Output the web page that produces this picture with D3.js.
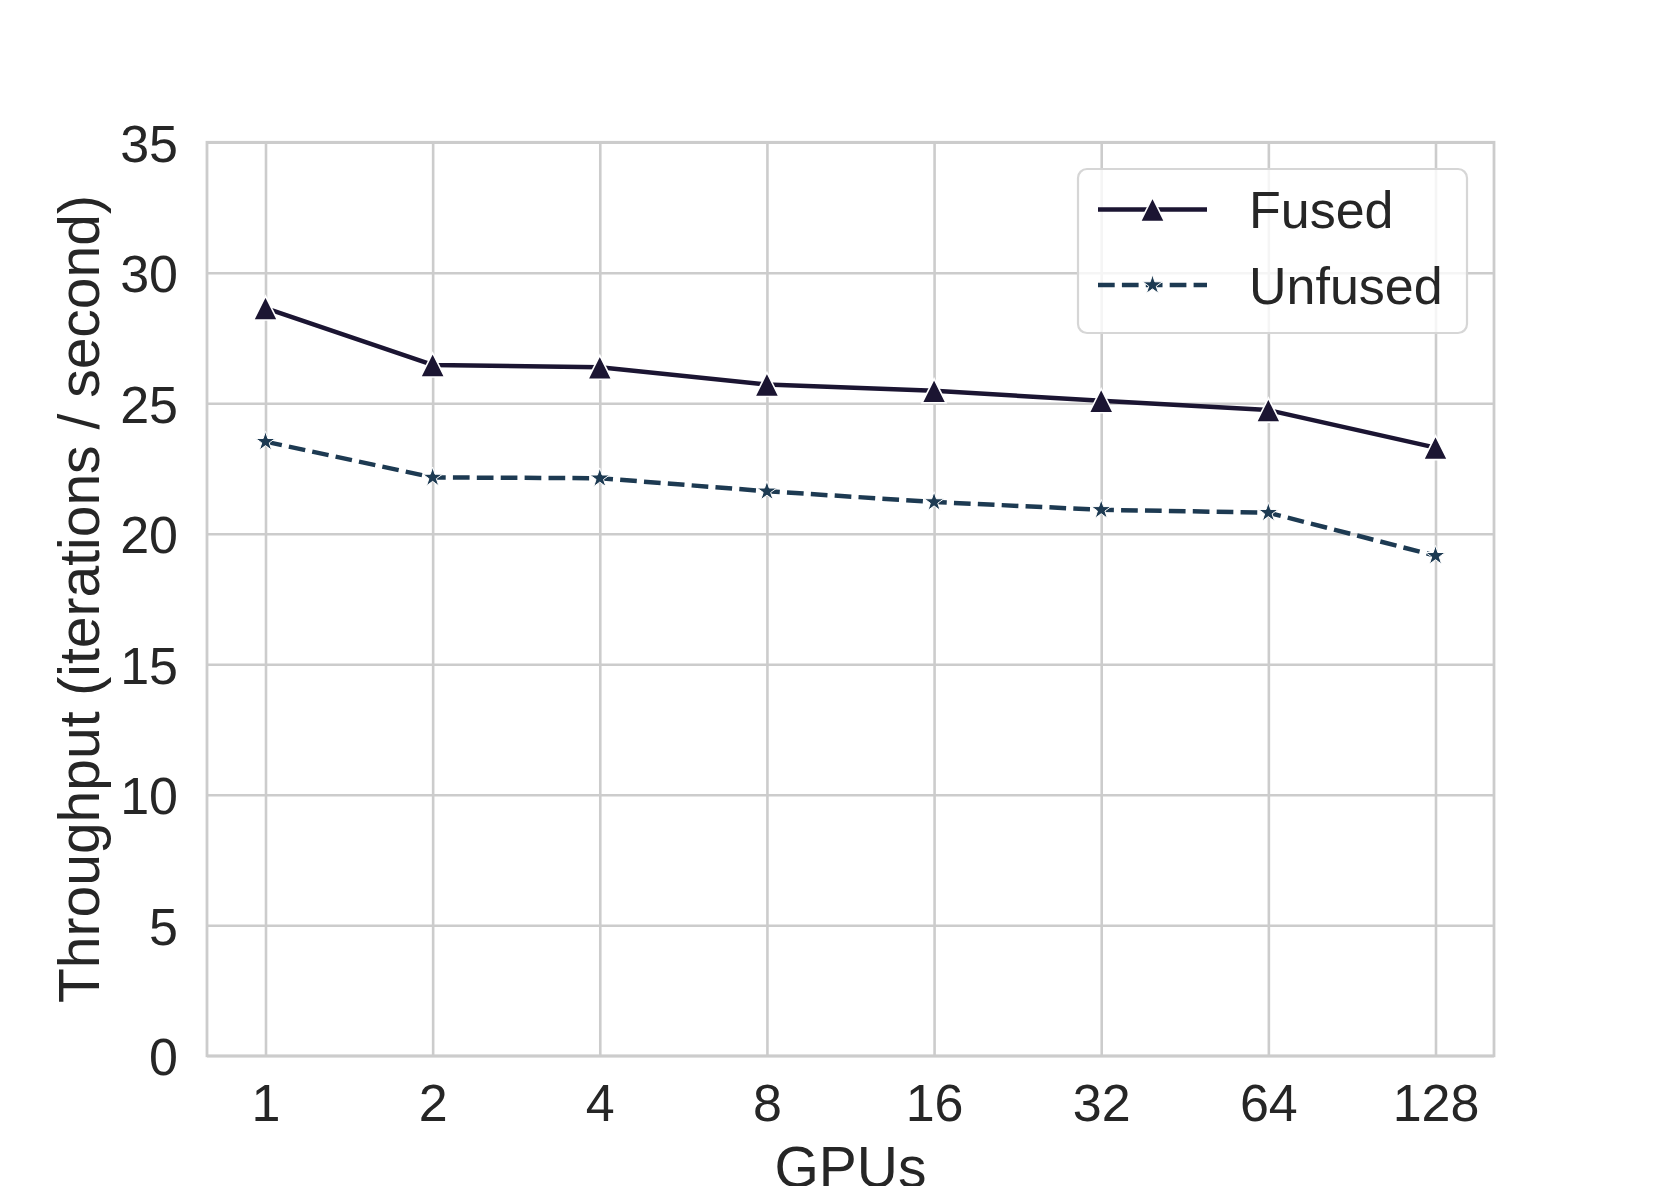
<!DOCTYPE html>
<html>
<head>
<meta charset="utf-8">
<script src="https://cdn.jsdelivr.net/npm/d3@7"></script>
<style>
  html, body { margin: 0; padding: 0; background: #ffffff; }
  text { font-family: "Liberation Sans", Arial, Helvetica, sans-serif; fill: #262626; }
</style>
</head>
<body>
<svg id="chart" width="1660" height="1186"></svg>
<script>
const categories = ["1", "2", "4", "8", "16", "32", "64", "128"];
const fusedValues = [28.65, 26.47, 26.38, 25.72, 25.48, 25.10, 24.74, 23.30];
const unfusedValues = [23.53, 22.16, 22.13, 21.63, 21.22, 20.92, 20.81, 19.16];
const yTicks = [0, 5, 10, 15, 20, 25, 30, 35];
const seriesNames = ["Fused", "Unfused"];
const seriesColors = ["#1b1532", "#1d3a52"];
const xLabel = "GPUs";
const yLabel = "Throughput (iterations / second)";

(function () {
const svg = d3.select("#chart");
const pLeft = 207, pRight = 1494, pTop = 142.3, pBottom = 1055.8;

const x = d3.scalePoint().domain(categories).range([pLeft, pRight]).padding(0.35);
const y = d3.scaleLinear().domain([0, 35]).range([pBottom, pTop]);

const gridColor = "#cccccc";
const fontFam = '"Liberation Sans", Arial, sans-serif';

// grid
const gx = svg.append("g").attr("transform", `translate(0,${pBottom})`)
  .call(d3.axisBottom(x).tickSize(-(pBottom - pTop)).tickPadding(26));
gx.select(".domain").remove();
gx.selectAll(".tick line").attr("stroke", gridColor).attr("stroke-width", 2.6);
gx.selectAll(".tick text").attr("font-size", 52).attr("fill", "#262626")
  .attr("dy", null).attr("y", 65.5).attr("font-family", fontFam);

const gy = svg.append("g").attr("transform", `translate(${pLeft},0)`)
  .call(d3.axisLeft(y).tickValues(yTicks).tickSize(-(pRight - pLeft)).tickPadding(30));
gy.select(".domain").remove();
gy.selectAll(".tick line").attr("stroke", gridColor).attr("stroke-width", 2.6);
gy.selectAll(".tick text").attr("font-size", 52).attr("fill", "#262626")
  .attr("x", -29).attr("dy", "0.36em").attr("font-family", fontFam);

// frame
svg.append("rect").attr("x", pLeft).attr("y", pTop)
  .attr("width", pRight - pLeft).attr("height", pBottom - pTop)
  .attr("fill", "none").attr("stroke", gridColor).attr("stroke-width", 2.8);

// axis labels
svg.append("text").attr("x", (pLeft + pRight) / 2).attr("y", 1187)
  .attr("text-anchor", "middle").attr("font-size", 57).text(xLabel);
svg.append("text").attr("transform", `translate(99,${(pTop + pBottom) / 2}) rotate(-90)`)
  .attr("text-anchor", "middle").attr("font-size", 57).text(yLabel);

const triPath = (s) => `M0,${-s}L${-s},${s}L${s},${s}Z`;
const starPath = d3.symbol(d3.symbolStar, 120)();

const series = [fusedValues, unfusedValues];
const dashes = [null, "16.7,7.2"];

series.forEach((vals, i) => {
  const line = d3.line().x((d, j) => x(categories[j])).y(d => y(d));
  svg.append("path").datum(vals).attr("d", line)
    .attr("fill", "none").attr("stroke", seriesColors[i]).attr("stroke-width", 4.5)
    .attr("stroke-dasharray", dashes[i]).attr("stroke-linejoin", "round");
  svg.selectAll(null).data(vals).enter().append("path")
    .attr("transform", (d, j) => `translate(${x(categories[j])},${y(d)})`)
    .attr("d", i === 0 ? triPath(12) : starPath)
    .attr("fill", seriesColors[i]).attr("stroke", "#ffffff").attr("stroke-width", i === 0 ? 1.6 : 1.0);
});

// legend
const lg = svg.append("g");
lg.append("rect").attr("x", 1078).attr("y", 169).attr("width", 389).attr("height", 164)
  .attr("rx", 9).attr("fill", "#ffffff").attr("fill-opacity", 0.8)
  .attr("stroke", "#d6d6d6").attr("stroke-width", 2.2);
const legRows = [209.5, 285];
seriesNames.forEach((name, i) => {
  const yy = legRows[i];
  lg.append("line").attr("x1", 1098).attr("x2", 1207).attr("y1", yy).attr("y2", yy)
    .attr("stroke", seriesColors[i]).attr("stroke-width", 4.5)
    .attr("stroke-dasharray", dashes[i]);
  lg.append("path").attr("transform", `translate(1152.5,${yy})`)
    .attr("d", i === 0 ? triPath(12) : starPath)
    .attr("fill", seriesColors[i]).attr("stroke", "#ffffff").attr("stroke-width", i === 0 ? 1.6 : 1.0);
  lg.append("text").attr("x", 1249).attr("y", yy + 18.5).attr("font-size", 52).text(name);
});
})();
</script>
</body>
</html>
